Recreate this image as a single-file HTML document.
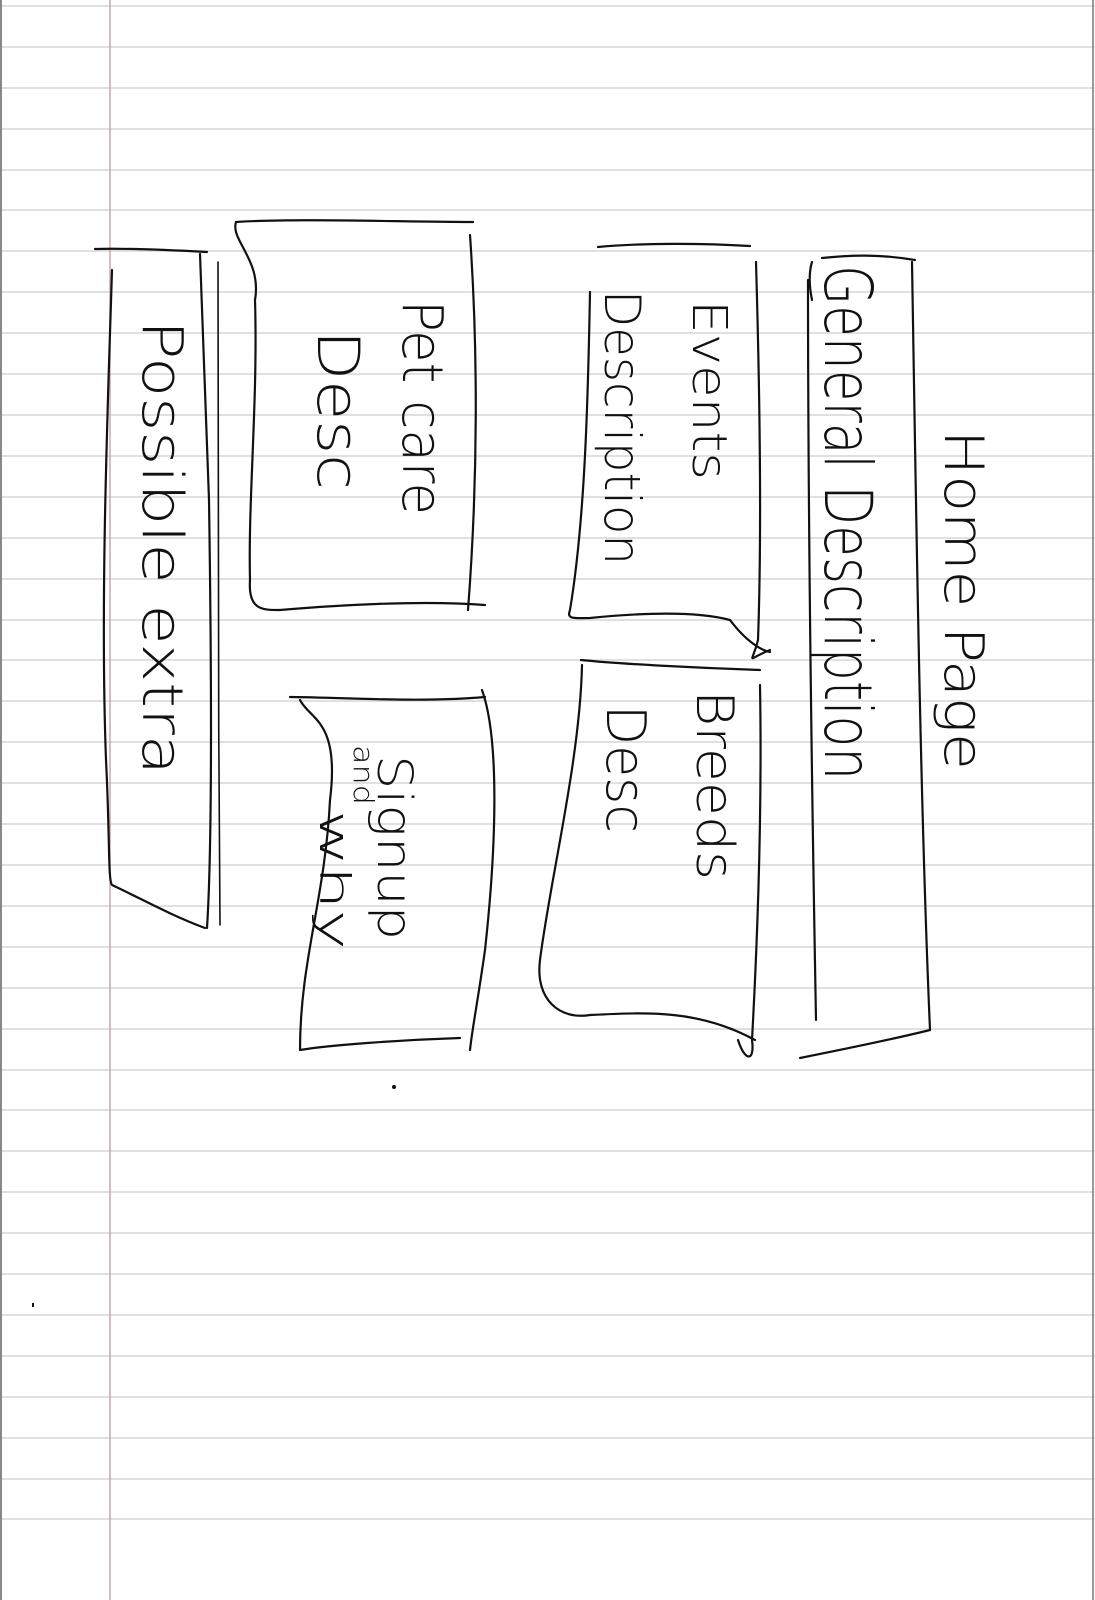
<!DOCTYPE html>
<html><head><meta charset="utf-8"><style>
html,body{margin:0;padding:0;background:#fff;}
svg{display:block;}
text{font-family:"DejaVu Sans","Liberation Sans",sans-serif;font-weight:200;fill:#111;}
</style></head><body>
<svg width="1095" height="1600" viewBox="0 0 1095 1600" xmlns="http://www.w3.org/2000/svg">
<rect width="1095" height="1600" fill="#fff"/>
<g stroke="#e0e0e0" stroke-width="2">
<line x1="0" y1="6" x2="1095" y2="6"/><line x1="0" y1="47" x2="1095" y2="47"/><line x1="0" y1="88" x2="1095" y2="88"/><line x1="0" y1="129" x2="1095" y2="129"/><line x1="0" y1="170" x2="1095" y2="170"/><line x1="0" y1="210" x2="1095" y2="210"/><line x1="0" y1="251" x2="1095" y2="251"/><line x1="0" y1="292" x2="1095" y2="292"/><line x1="0" y1="333" x2="1095" y2="333"/><line x1="0" y1="374" x2="1095" y2="374"/><line x1="0" y1="415" x2="1095" y2="415"/><line x1="0" y1="456" x2="1095" y2="456"/><line x1="0" y1="497" x2="1095" y2="497"/><line x1="0" y1="538" x2="1095" y2="538"/><line x1="0" y1="579" x2="1095" y2="579"/><line x1="0" y1="620" x2="1095" y2="620"/><line x1="0" y1="660" x2="1095" y2="660"/><line x1="0" y1="701" x2="1095" y2="701"/><line x1="0" y1="742" x2="1095" y2="742"/><line x1="0" y1="783" x2="1095" y2="783"/><line x1="0" y1="824" x2="1095" y2="824"/><line x1="0" y1="865" x2="1095" y2="865"/><line x1="0" y1="906" x2="1095" y2="906"/><line x1="0" y1="947" x2="1095" y2="947"/><line x1="0" y1="988" x2="1095" y2="988"/><line x1="0" y1="1029" x2="1095" y2="1029"/><line x1="0" y1="1070" x2="1095" y2="1070"/><line x1="0" y1="1110" x2="1095" y2="1110"/><line x1="0" y1="1151" x2="1095" y2="1151"/><line x1="0" y1="1192" x2="1095" y2="1192"/><line x1="0" y1="1233" x2="1095" y2="1233"/><line x1="0" y1="1274" x2="1095" y2="1274"/><line x1="0" y1="1315" x2="1095" y2="1315"/><line x1="0" y1="1356" x2="1095" y2="1356"/><line x1="0" y1="1397" x2="1095" y2="1397"/><line x1="0" y1="1438" x2="1095" y2="1438"/><line x1="0" y1="1479" x2="1095" y2="1479"/><line x1="0" y1="1519" x2="1095" y2="1519"/>
</g>
<line x1="110" y1="0" x2="110" y2="1600" stroke="#c9a8a8" stroke-width="1.5"/>
<line x1="1" y1="0" x2="1" y2="1600" stroke="#888" stroke-width="2"/>
<line x1="1093" y1="0" x2="1093" y2="1600" stroke="#999" stroke-width="2"/>

<g fill="none" stroke="#111" stroke-width="2.2" stroke-linecap="round" stroke-linejoin="round">
<path d="M822,258 C850,255 880,254 915,260"/>
<path d="M812,262 C808,275 810,290 812,300"/>
<path d="M912,262 C916,500 920,800 930,1030"/>
<path d="M808,280 C808,500 812,800 816,1020"/>
<path d="M800,1058 C840,1050 890,1040 930,1030"/>
<path d="M598,247 C640,243 700,243 750,246"/>
<path d="M756,262 C760,400 762,530 758,640 C752,665 745,660 770,650"/>
<path d="M590,292 C588,400 585,520 570,610 C566,620 575,618 590,618 C650,612 700,612 730,620 C745,640 760,650 770,652"/>
<path d="M581,660 C620,664 700,668 760,670"/>
<path d="M760,685 C762,800 758,930 752,1040 C755,1062 745,1062 738,1040"/>
<path d="M582,665 C580,760 550,880 540,960 C535,1000 560,1020 590,1015 C650,1012 700,1010 755,1040"/>
<path d="M236,222 C300,218 400,222 473,222"/>
<path d="M236,222 C230,240 262,260 255,300 C258,400 248,500 250,580 C248,610 262,610 280,610 C340,605 420,600 485,605"/>
<path d="M470,235 C478,350 478,480 468,610"/>
<path d="M290,697 C330,697 420,703 485,697"/>
<path d="M482,690 C500,740 496,850 485,950 C478,1000 472,1030 470,1050"/>
<path d="M300,700 C310,720 340,720 330,800 C325,900 300,960 300,1050 C330,1045 400,1040 460,1038"/>
<path d="M95,249 C130,248 170,250 207,252"/>
<path d="M200,254 C202,300 206,400 209,500 C212,700 212,850 207,928"/>
<path d="M112,270 C108,400 100,600 106,760 C110,840 108,880 112,885 C140,898 170,915 205,928"/>
<path d="M218,262 C218,450 218,700 220,925" stroke-width="1.6"/>
</g>
<circle cx="394" cy="1087" r="2" fill="#111"/>
<line x1="33" y1="1303" x2="33" y2="1307" stroke="#111" stroke-width="2"/>

<g>
<text transform="translate(945,430) rotate(90)" font-size="54" textLength="340" lengthAdjust="spacingAndGlyphs">Home  Page</text>
<text transform="translate(825,265) rotate(90)" font-size="66" textLength="515" lengthAdjust="spacingAndGlyphs">General Description</text>
<text transform="translate(693,300) rotate(90)" font-size="48" textLength="180" lengthAdjust="spacingAndGlyphs">Events</text>
<text transform="translate(605,290) rotate(90)" font-size="50" textLength="275" lengthAdjust="spacingAndGlyphs">Description</text>
<text transform="translate(697,690) rotate(90)" font-size="52" textLength="190" lengthAdjust="spacingAndGlyphs">Breeds</text>
<text transform="translate(607,705) rotate(90)" font-size="54" textLength="128" lengthAdjust="spacingAndGlyphs">Desc</text>
<text transform="translate(403,300) rotate(90)" font-size="56" textLength="215" lengthAdjust="spacingAndGlyphs">Pet care</text>
<text transform="translate(318,330) rotate(90)" font-size="58" textLength="160" lengthAdjust="spacingAndGlyphs">Desc</text>
<text transform="translate(378,755) rotate(90)" font-size="48" textLength="185" lengthAdjust="spacingAndGlyphs">Signup</text>
<text transform="translate(354,745) rotate(90)" font-size="28" textLength="60" lengthAdjust="spacingAndGlyphs">and</text>
<text transform="translate(320,810) rotate(90)" font-size="42" textLength="140" lengthAdjust="spacingAndGlyphs">why</text>
<text transform="translate(143,320) rotate(90)" font-size="56" textLength="455" lengthAdjust="spacingAndGlyphs">Possible extra</text>
</g>
</svg>
</body></html>
